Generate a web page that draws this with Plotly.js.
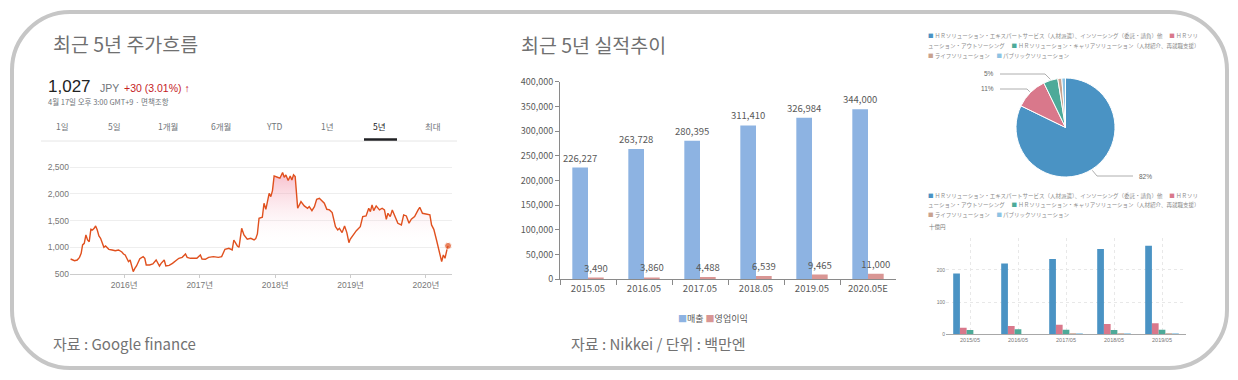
<!DOCTYPE html>
<html>
<head>
<meta charset="utf-8">
<script src="https://cdn.plot.ly/plotly-3.0.1.min.js"></script>
<style>
  html, body { margin: 0; padding: 0; background: #fff; }
  #chart { width: 1238px; height: 380px; }
</style>
</head>
<body>
<div id="chart"></div>
<script>
// ---------------- DATA ----------------
// Stock price (JPY), last 5 years
const stockDates = ['2015-04-17','2015-05-06','2015-05-19','2015-05-30','2015-06-07','2015-06-14','2015-06-22','2015-06-30','2015-07-08','2015-07-16','2015-07-24','2015-08-01','2015-08-09','2015-08-16','2015-08-24','2015-09-01','2015-09-09','2015-09-17','2015-09-25','2015-10-03','2015-10-11','2015-10-19','2015-11-04','2015-11-19','2015-12-05','2015-12-21','2015-12-29',
'2016-01-06','2016-01-14','2016-01-22','2016-01-30','2016-02-06','2016-02-14','2016-02-22','2016-03-01','2016-03-17','2016-04-02','2016-04-10','2016-04-17','2016-05-03','2016-05-19','2016-06-04','2016-06-12','2016-06-20','2016-06-28','2016-07-13','2016-07-21','2016-08-06','2016-08-22','2016-09-07','2016-09-22','2016-10-08','2016-10-24','2016-11-01','2016-11-17','2016-12-02','2016-12-18',
'2017-01-04','2017-01-12','2017-01-28','2017-02-13','2017-03-08','2017-04-01','2017-04-17','2017-05-03','2017-05-22','2017-06-07','2017-06-15','2017-07-02','2017-07-10','2017-07-23','2017-08-03','2017-08-19','2017-09-05','2017-09-21','2017-09-29','2017-10-07','2017-10-15','2017-10-31','2017-11-08','2017-11-17','2017-12-03','2017-12-11','2017-12-19','2017-12-27',
'2018-01-12','2018-01-24','2018-02-06','2018-02-14','2018-02-22','2018-03-05','2018-03-15','2018-03-23','2018-03-31','2018-04-08','2018-04-20','2018-05-06','2018-05-22','2018-06-07','2018-06-15','2018-06-28','2018-07-10','2018-07-21','2018-08-03','2018-08-16','2018-08-27','2018-09-08','2018-09-21','2018-10-04','2018-10-20','2018-10-31','2018-11-08','2018-11-21','2018-12-03','2018-12-14','2018-12-24','2018-12-30',
'2019-01-12','2019-01-29','2019-02-17','2019-03-01','2019-03-17','2019-03-30','2019-04-07','2019-04-15','2019-04-23','2019-05-05','2019-05-21','2019-06-03','2019-06-14','2019-06-23','2019-07-01','2019-07-12','2019-07-22','2019-08-02','2019-08-18','2019-09-04','2019-09-15','2019-09-28','2019-10-11','2019-10-22','2019-11-07','2019-11-24','2019-12-02','2019-12-15',
'2020-01-04','2020-01-20','2020-01-28','2020-02-08','2020-02-21','2020-03-06','2020-03-17','2020-03-25','2020-04-02','2020-04-13','2020-04-17'];
const stockPrices = [781,750,762,812,887,1044,1075,1231,1137,1106,1337,1325,1356,1400,1325,1212,1169,1087,1000,1025,1000,962,950,937,950,912,875,
856,794,731,762,637,544,606,650,787,825,794,669,669,687,762,700,650,700,762,650,662,700,750,794,812,875,812,794,794,794,
856,781,775,812,825,812,825,962,981,950,1137,1025,1000,1356,1231,1150,1169,1137,1162,1250,1544,1562,1825,1712,2012,1950,2062,2337,
2312,2294,2400,2312,2356,2250,2337,2262,2356,2325,1731,1856,1775,1731,1762,1687,1762,1900,1919,1856,1825,1712,1700,1650,1387,1325,1356,1275,1400,1275,1087,1150,
1231,1312,1387,1575,1587,1731,1669,1794,1687,1775,1700,1731,1700,1525,1637,1575,1700,1606,1450,1419,1606,1587,1450,1525,1575,1700,1750,1637,
1625,1606,1419,1337,1137,887,731,856,794,981,1027];
const prevClose = 997;
const stockYearTicks = ['2016-01-01','2017-01-01','2018-01-01','2019-01-01','2020-01-01'];
const stockYearLabels = ['2016년','2017년','2018년','2019년','2020년'];
const stockPriceTicks = [500, 1000, 1500, 2000, 2500];
const rangeTabs = ['1일','5일','1개월','6개월','YTD','1년','5년','최대'];
const selectedTab = '5년';

// Sales / operating profit (million JPY)
const fiscalYears = ['2015.05','2016.05','2017.05','2018.05','2019.05','2020.05E'];
const salesValues = [226227, 263728, 280395, 311410, 326984, 344000];
const opProfitValues = [3490, 3860, 4488, 6539, 9465, 11000];
const salesNames = ['매출', '영업이익'];

// Segments (billion JPY)
const segYears = ['2015/05','2016/05','2017/05','2018/05','2019/05'];
const segNames = ['ＨＲソリューション・エキスパートサービス（人材派遣）、インソーシング（委託・請負）他',
                  'ＨＲソリューション・アウトソーシング',
                  'ＨＲソリューション・キャリアソリューション（人材紹介、再就職支援）',
                  'ライフソリューション',
                  'パブリックソリューション'];
const segExpert = [189, 220, 234, 265, 275];
const segOutsourcing = [20, 26, 30, 32, 34];
const segCareer = [13, 16, 14, 13, 14];
const segLife = [0, 0, 3, 3, 3.5];
const segPublic = [0, 0, 3, 3, 3];
const segTicks = [0, 100, 200];
const pieShares = [82.2, 10.6, 4.7, 1.3, 1.2];

// ---------------- STYLE ----------------
const W = 1238, H = 380;
const fx = x => x / W;
const fy = y => 1 - y / H;
const segColors = ['#4A93C4', '#D9788B', '#4DAA99', '#C9A28E', '#8DC3E3'];
const salesColors = ['#8DB3E2', '#D99694'];
const KR = '"Noto Sans CJK KR", "Noto Sans", sans-serif';
const JP = '"Noto Sans CJK JP", "Noto Sans", sans-serif';
const LAT = '"Liberation Sans", Arial, "Noto Sans CJK KR", sans-serif';

// ---------------- TRACES ----------------
const traces = [];
const lastIdx = stockPrices.length - 1;
traces.push({
  type: 'scatter', mode: 'lines+markers', xaxis: 'x', yaxis: 'y',
  x: stockDates, y: stockPrices,
  line: { color: '#E0501E', width: 1.4 },
  marker: { color: '#E0501E', size: stockPrices.map((v, i) => i === lastIdx ? 7 : 0) },
  fill: 'tozeroy',
  fillgradient: { type: 'vertical', start: 1000, stop: 2400,
    colorscale: [[0, 'rgba(255,255,255,0)'], [1, 'rgba(238,110,140,0.45)']] },
  showlegend: false, hoverinfo: 'skip', cliponaxis: false
});

[salesValues, opProfitValues].forEach((vals, k) => {
  traces.push({
    type: 'bar', xaxis: 'x2', yaxis: 'y2', name: salesNames[k],
    x: fiscalYears, y: vals,
    width: 0.28, offset: k === 0 ? -0.28 : 0,
    marker: { color: salesColors[k] },
    texttemplate: '%{y:,}', textposition: 'outside', constraintext: 'none',
    textfont: { size: 9.5, color: '#595959', family: KR },
    cliponaxis: false, showlegend: false, hoverinfo: 'skip'
  });
});

const segSeries = [segExpert, segOutsourcing, segCareer, segLife, segPublic];
segSeries.forEach((vals, k) => {
  traces.push({
    type: 'bar', xaxis: 'x3', yaxis: 'y3', name: segNames[k],
    x: segYears, y: vals,
    width: 0.14, offset: -0.35 + 0.14 * k,
    marker: { color: segColors[k] },
    showlegend: false, hoverinfo: 'skip'
  });
});

const pieDom = { x0: 1016, x1: 1115, y0: 78, y1: 177 };
traces.push({
  type: 'pie', values: pieShares, labels: segNames,
  marker: { colors: segColors, line: { color: '#ffffff', width: 1 } },
  sort: false, direction: 'clockwise', rotation: 0,
  textinfo: 'none', hoverinfo: 'skip', showlegend: false,
  domain: { x: [fx(pieDom.x0), fx(pieDom.x1)], y: [fy(pieDom.y1), fy(pieDom.y0)] }
});

// ---------------- ANNOTATIONS & SHAPES ----------------
const ann = [];
const shapes = [];
function txt(text, x, y, size, color, opts) {
  ann.push(Object.assign({ text, x: fx(x), y: fy(y), xref: 'paper', yref: 'paper',
    showarrow: false, xanchor: 'left', yanchor: 'middle',
    font: { size, color, family: KR } }, opts || {}));
}
function line(pts, color, width) {
  const d = pts.map((p, i) => (i ? 'L' : 'M') + fx(p[0]) + ',' + fy(p[1])).join(' ');
  shapes.push({ type: 'path', xref: 'paper', yref: 'paper', path: d, line: { color, width } });
}

// Frame (rounded rectangle)
(function () {
  const L = 12, T = 12, R = 1227, B = 368, r = 58, k = 0.5523 * r;
  const P = (x, y) => fx(x) + ',' + fy(y);
  const d = 'M' + P(L + r, T) + ' L' + P(R - r, T) +
    ' C' + P(R - r + k, T) + ' ' + P(R, T + r - k) + ' ' + P(R, T + r) +
    ' L' + P(R, B - r) +
    ' C' + P(R, B - r + k) + ' ' + P(R - r + k, B) + ' ' + P(R - r, B) +
    ' L' + P(L + r, B) +
    ' C' + P(L + r - k, B) + ' ' + P(L, B - r + k) + ' ' + P(L, B - r) +
    ' L' + P(L, T + r) +
    ' C' + P(L, T + r - k) + ' ' + P(L + r - k, T) + ' ' + P(L + r, T) + ' Z';
  shapes.push({ type: 'path', xref: 'paper', yref: 'paper', path: d, line: { color: '#c6c6c6', width: 4 } });
})();

// Left panel texts
txt('최근 5년 주가흐름', 51, 43, 19.5, '#707070');
const lastPrice = stockPrices[lastIdx];
const chg = lastPrice - prevClose;
const chgPct = (chg / prevClose * 100).toFixed(2);
txt(`<span style="font-size:17px;color:#222">${lastPrice.toLocaleString('en-US')}</span>  ` +
    `<span style="font-size:10.5px;color:#70757a">JPY</span> ` +
    `<span style="font-size:10.5px;color:#c5221f">+${chg} (${chgPct}%) <b>↑</b></span>`,
    46, 86, 17, '#222', { font: { size: 17, color: '#222', family: LAT } });
txt('4월 17일 오후 3:00 GMT+9 · 면책조항', 46, 102, 7.5, '#70757a');
rangeTabs.forEach((t, i) => {
  txt(t, 62 + 53 * i, 126, 8.5, t === selectedTab ? '#202124' : '#70757a', { xanchor: 'center' });
});
line([[41, 141], [457, 141]], '#e6e6e6', 1);
line([[364, 139.5], [397, 139.5]], '#202124', 2.5);
txt('자료 : Google finance', 51, 343, 15, '#727272');

// Middle panel texts
txt('최근 5년 실적추이', 519, 44, 19.5, '#707070');
txt(salesNames.map((n, i) => `<span style="color:${salesColors[i]}">■</span>${n}`).join(' '),
    713, 318, 9, '#595959', { xanchor: 'center' });
txt('자료 : Nikkei / 단위 : 백만엔', 569, 343, 15, '#727272');

// Right panel legends
const sq = i => `<span style="color:${segColors[i]}">■</span> `;
const legLines = [
  sq(0) + segNames[0] + '　 ' + sq(1) + segNames[1].slice(0, 4),
  segNames[1].slice(4) + '　 ' + sq(2) + segNames[2],
  sq(3) + segNames[3] + '　 ' + sq(4) + segNames[4]
];
[36, 46, 56.5].forEach((y, i) => txt(legLines[i], 926, y, 5.5, '#8a8a8a', { font: { size: 5.5, color: '#8a8a8a', family: JP } }));
[196, 205.5, 215].forEach((y, i) => txt(legLines[i], 926, y, 5.5, '#8a8a8a', { font: { size: 5.5, color: '#8a8a8a', family: JP } }));
txt('十億円', 927, 227, 5.5, '#777', { font: { size: 5.5, color: '#777', family: JP } });

// Pie labels with leader lines (anchored on slice mid-angles)
(function () {
  const cx = (pieDom.x0 + pieDom.x1) / 2, cy = (pieDom.y0 + pieDom.y1) / 2;
  const r = (pieDom.x1 - pieDom.x0) / 2;
  const total = pieShares.reduce((a, b) => a + b, 0);
  let cum = 0;
  const mids = pieShares.map(v => { const m = (cum + v / 2) / total * 2 * Math.PI; cum += v; return m; });
  const edge = i => [cx + (r + 1) * Math.sin(mids[i]), cy - (r + 1) * Math.cos(mids[i])];
  const labelSpec = [
    { i: 0, elbow: [1097, 176], end: [1133, 176], tx: 1137, anchor: 'left' },
    { i: 1, elbow: [1027, 89], end: [1000, 89], tx: 996, anchor: 'right' },
    { i: 2, elbow: [1045, 74], end: [1000, 74], tx: 996, anchor: 'right' }
  ];
  labelSpec.forEach(s => {
    line([edge(s.i), s.elbow, s.end], '#9a9a9a', 0.8);
    txt(Math.round(pieShares[s.i] / total * 100) + '%', s.tx, s.end[1], 6.5, '#666',
        { xanchor: s.anchor, font: { size: 6.5, color: '#666', family: LAT } });
  });
})();

// ---------------- LAYOUT ----------------
const layout = {
  width: W, height: H,
  margin: { l: 0, r: 0, t: 0, b: 0 },
  paper_bgcolor: '#ffffff', plot_bgcolor: 'rgba(0,0,0,0)',
  font: { family: KR, color: '#595959' },
  barmode: 'overlay',
  showlegend: false,
  xaxis: {
    domain: [fx(70), fx(452)], anchor: 'y', type: 'date',
    range: ['2015-04-14', '2020-05-06'],
    tickvals: stockYearTicks, ticktext: stockYearLabels,
    ticks: 'outside', ticklen: 3, tickcolor: '#cccccc',
    showline: true, linecolor: '#cccccc', linewidth: 1,
    showgrid: false, zeroline: false, fixedrange: true,
    tickfont: { size: 8.5, color: '#777', family: LAT }
  },
  yaxis: {
    domain: [fy(274), fy(160)], anchor: 'x',
    range: [500, 2635], tickvals: stockPriceTicks, tickformat: ',',
    showgrid: true, gridcolor: '#eeeeee', zeroline: false, showline: false,
    ticks: '', fixedrange: true,
    tickfont: { size: 8.5, color: '#777', family: LAT }
  },
  xaxis2: {
    domain: [fx(560), fx(896)], anchor: 'y2', type: 'category',
    showline: true, linecolor: '#8a8a8a', linewidth: 1,
    ticks: 'outside', tickson: 'boundaries', ticklen: 5, tickcolor: '#8a8a8a',
    showgrid: false, zeroline: false,
    tickfont: { size: 9.5, color: '#595959', family: KR }
  },
  yaxis2: {
    domain: [fy(279.3), fy(81.7)], anchor: 'x2',
    range: [0, 400000], dtick: 50000, tickformat: ',',
    showline: true, linecolor: '#8a8a8a', linewidth: 1,
    ticks: 'outside', ticklen: 4, tickcolor: '#8a8a8a',
    showgrid: false, zeroline: false,
    tickfont: { size: 9, color: '#595959', family: KR }
  },
  xaxis3: {
    domain: [fx(946), fx(1186)], anchor: 'y3', type: 'category',
    showline: true, linecolor: '#a8a8a8', linewidth: 1,
    ticks: '', showgrid: true, gridcolor: '#e8e8e8', griddash: 'dot',
    zeroline: false,
    tickfont: { size: 5.5, color: '#777', family: LAT }
  },
  yaxis3: {
    domain: [fy(334.3), fy(237.7)], anchor: 'x3',
    range: [0, 300], tickvals: segTicks,
    showgrid: true, gridcolor: '#e8e8e8', griddash: 'dot',
    zeroline: false, showline: false, ticks: '',
    tickfont: { size: 5, color: '#777', family: LAT }
  },
  annotations: ann,
  shapes: shapes
};

Plotly.newPlot('chart', traces, layout, { staticPlot: true, displayModeBar: false });
</script>
</body>
</html>
